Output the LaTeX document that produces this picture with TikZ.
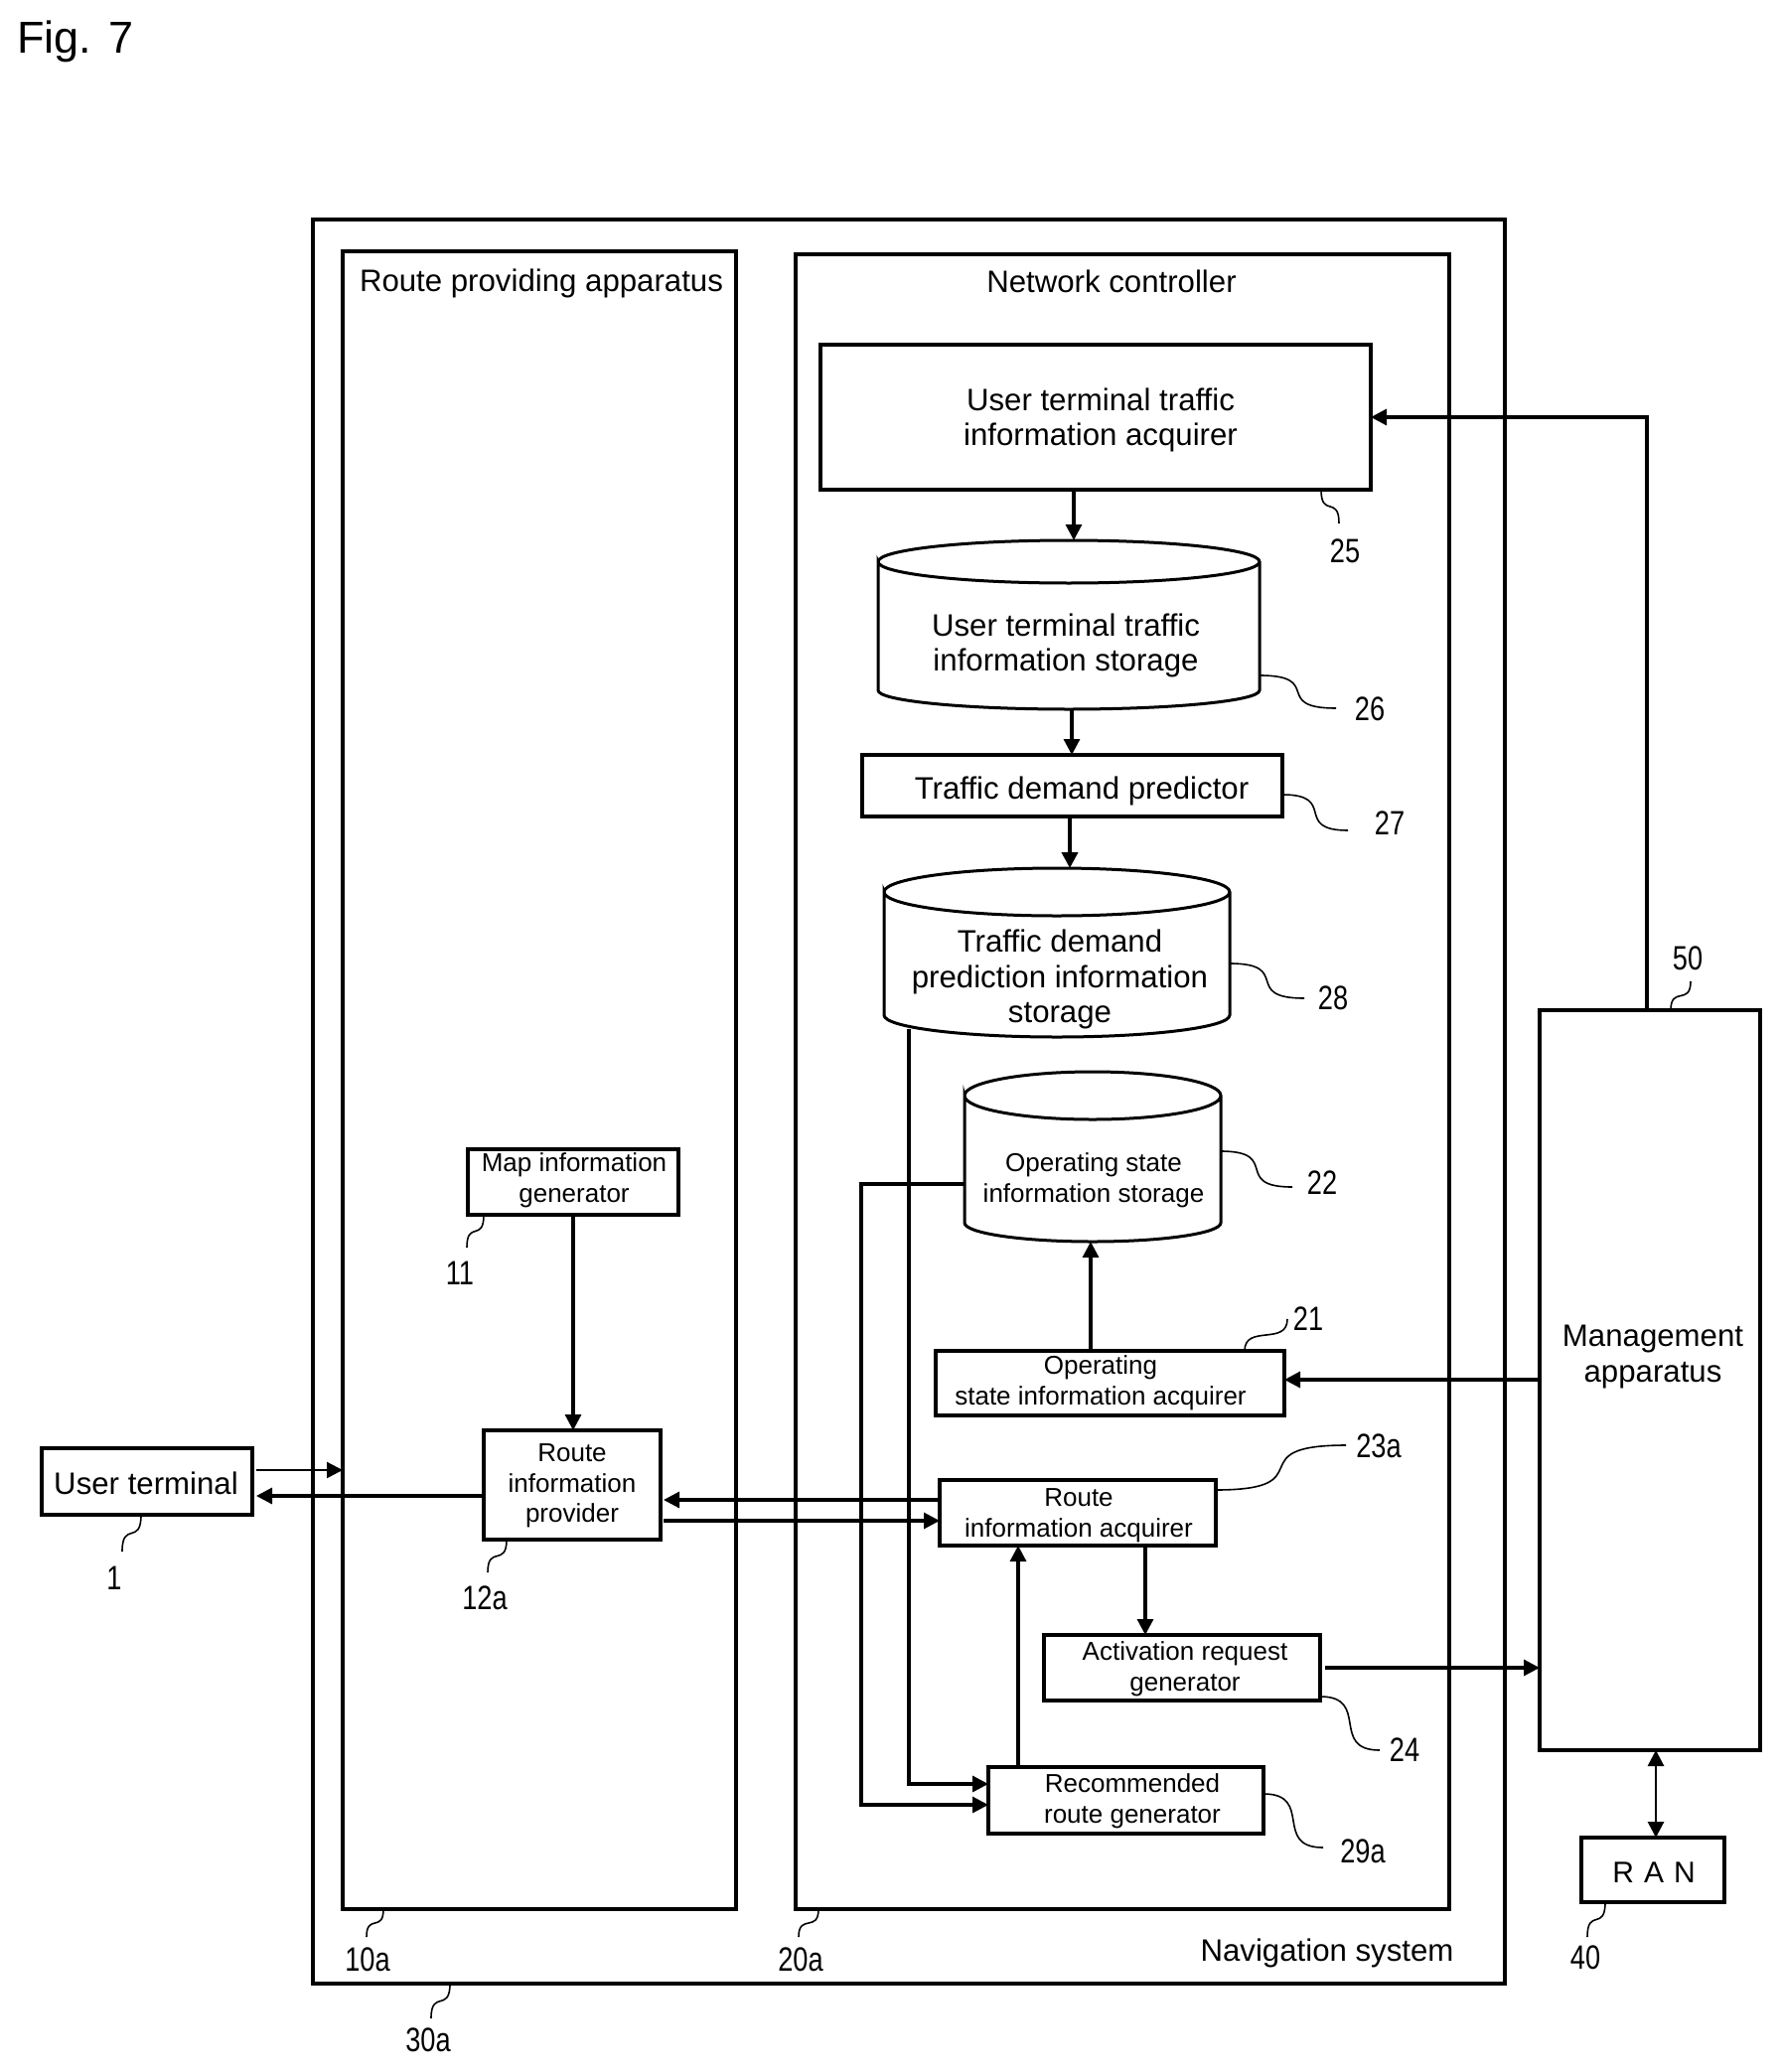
\documentclass[tikz,border=0pt]{standalone}
\usepackage{fontspec}
\setmainfont{Liberation Sans}
\newfontfamily\numfont[FakeStretch=0.8]{Liberation Sans}
\usetikzlibrary{arrows.meta,calc}
\tikzset{
  frame/.style={draw=black,line width=1.7pt,inner sep=0pt,outer sep=0pt,fill=none},
  panel/.style={draw=black,line width=1.7pt,inner sep=0pt,outer sep=0pt},
  heavy/.style={draw=black,line width=2.1pt,inner sep=0pt,outer sep=0pt},
  hollow/.style={draw=none,inner sep=0pt,outer sep=0pt},
  big/.style={inner sep=0pt,align=center,font=\fontsize{15.6}{17.6}\selectfont},
  small/.style={inner sep=0pt,align=center,font=\fontsize{13}{15.3}\selectfont},
  num/.style={inner sep=0pt,font=\numfont\fontsize{17}{20}\selectfont},
  arr/.style={line width=1.6pt,-{Triangle[length=8pt,width=8pt]}},
  thinarr/.style={line width=1.2pt,-{Triangle[length=8pt,width=8pt]}},
  dblarr/.style={line width=1.4pt,{Triangle[length=8pt,width=8pt]}-{Triangle[length=8pt,width=8pt]}},
  leader/.style={line width=0.8pt},
  cylline/.style={draw=black,line width=1.5pt},
}
% name, style, left, top, right, bottom
\newcommand{\boxn}[6]{%
  \node[#2,minimum width={(#5-(#3))*0.5pt},minimum height={(#6-(#4))*0.5pt}]
    (#1) at ({(#3+#5)/2},{(#4+#6)/2}) {};}
% name, left, top, right, ellipse bottom, side bottom, bottom
\newcommand{\cyln}[7]{%
  \boxn{#1}{hollow}{#2}{#3}{#4}{#7}
  \pgfmathsetmacro{\cx}{(#4-#2)/4}
  \pgfmathsetmacro{\cy}{(#5-#3)/4}
  \pgfmathsetmacro{\cyb}{(#7-#6)/2}
  \pgfmathsetmacro{\cm}{(#3+#5)/2}
  \draw[cylline] (#2,\cm) arc[start angle=180,end angle=0,x radius=\cx pt,y radius=\cy pt]
     arc[start angle=0,end angle=-180,x radius=\cx pt,y radius=\cy pt]
     -- (#2,#6) arc[start angle=180,end angle=360,x radius=\cx pt,y radius=\cyb pt]
     -- (#4,\cm);}
% S-shaped leaders: vertical ends / horizontal ends
\newcommand{\leadv}[2]{\draw[leader] let \p1=(#1),\p2=(#2) in
  (\p1) .. controls (\x1,{\y1+0.85*(\y2-\y1)}) and (\x2,{\y2-0.85*(\y2-\y1)}) .. (\p2);}
\newcommand{\leadh}[2]{\draw[leader] let \p1=(#1),\p2=(#2) in
  (\p1) .. controls ({\x1+0.85*(\x2-\x1)},\y1) and ({\x2-0.85*(\x2-\x1)},\y2) .. (\p2);}
\begin{document}
\begin{tikzpicture}[x=0.5pt,y=-0.5pt]
\useasboundingbox (0,0) rectangle (1793,2086);
\node[anchor=west,inner sep=0pt,font=\fontsize{22.5}{26}\selectfont] (fig) at (17,42) {Fig. 7};

% containers
\boxn{sys}{frame}{315}{221}{1515}{1997}
\boxn{rpa}{frame}{345}{253}{741}{1922}
\boxn{nc}{frame}{801}{256}{1459}{1922}
\node[big] (tsys) at (1336,1966) {Navigation system};
\node[big] (trpa) at (545,285) {Route providing apparatus};
\node[big] (tnc) at (1119,283) {Network controller};

% boxes
\boxn{ut}{panel}{42}{1458}{254}{1525}
\node[big] (tut) at (147,1493) {User terminal};
\boxn{b11}{panel}{471}{1157}{683}{1223}
\node[small] (t11) at (578,1188) {Map information\\generator};
\boxn{b12}{panel}{487}{1440}{665}{1550}
\node[small] (t12) at (576,1496) {Route\\information\\provider};
\boxn{b25}{heavy}{826}{347}{1380}{493}
\node[big] (t25) at (1108,423) {User terminal traffic\\information acquirer};
\boxn{b27}{heavy}{868}{760}{1291}{822}
\node[big] (t27) at (1089,796) {Traffic demand predictor};
\boxn{b21}{panel}{942}{1360}{1293}{1425}
\node[small] (t21) at (1108,1392) {Operating\\state information acquirer};
\boxn{b23}{panel}{946}{1490}{1224}{1556}
\node[small] (t23) at (1086,1526) {Route\\information acquirer};
\boxn{b24}{panel}{1051}{1646}{1329}{1712}
\node[small] (t24) at (1193,1680) {Activation request\\generator};
\boxn{b29}{panel}{995}{1779}{1272}{1846}
\node[small] (t29) at (1140,1813) {Recommended\\route generator};
\boxn{mg}{panel}{1550}{1017}{1772}{1762}
\node[big] (tmg) at (1664,1366) {Management\\apparatus};
\boxn{ran}{panel}{1592}{1850}{1736}{1915}
\node[inner sep=0pt,font=\fontsize{15}{18}\selectfont] (tran) at (1665,1885) {R\,\,A\,\,N};

% cylinders
\cyln{c26}{884}{544}{1268}{587}{695}{714}
\node[big] (t26) at (1073,650) {User terminal traffic\\information storage};
\cyln{c28}{890}{874}{1238}{922}{1022}{1044}
\node[big] (t28) at (1067,986) {Traffic demand\\prediction information\\storage};
\cyln{c22}{971}{1079}{1229}{1127}{1231}{1250}
\node[small] (t22) at (1101,1188) {Operating state\\information storage};

% connectors
\draw[arr] (mg.north -| 1658,0) |- (b25.east |- 0,420);
\draw[arr] (b25.south -| 1081,0) -- (c26.north -| 1081,0);
\draw[arr] (c26.south -| 1079,0) -- (b27.north -| 1079,0);
\draw[arr,line width=1.9pt] (b27.south -| 1077,0) -- (c28.north -| 1077,0);
\draw[arr] (b21.north -| 1098,0) -- (c22.south -| 1098,0);
\draw[arr] (mg.west |- 0,1389) -- (b21.east |- 0,1389);
\draw[arr] (b11.south -| 577,0) -- (b12.north -| 577,0);
\draw[thinarr] (ut.east |- 0,1480) ++(4,0) -- (rpa.west |- 0,1480);
\draw[arr] (b12.west |- 0,1506) -- ($(ut.east |- 0,1506)+(4,0)$);
\draw[arr] (b23.west |- 0,1510) -- ($(b12.east |- 0,1510)+(3,0)$);
\draw[arr] ($(b12.east |- 0,1531)+(3,0)$) -- (b23.west |- 0,1531);
\draw[arr] (b23.south -| 1153,0) -- (b24.north -| 1153,0);
\draw[arr] (b29.north -| 1025,0) -- (b23.south -| 1025,0);
\draw[arr] ($(b24.east |- 0,1679)+(5,0)$) -- (mg.west |- 0,1679);
\draw[arr] ($(c28.south -| 915,0)+(0,-8)$) -- (915,1796) -- (b29.west |- 0,1796);
\draw[arr] (c22.west |- 0,1192) -- (867,1192) -- (867,1817) -- (b29.west |- 0,1817);
\draw[dblarr] (mg.south -| 1667,0) -- (ran.north -| 1667,0);

% reference numerals
\node[num] (n1) at (115,1589) {1};
\node[num] (n12) at (488,1609) {12a};
\node[num] (n10) at (370,1973) {10a};
\node[num] (n30) at (431,2054) {30a};
\node[num] (n20) at (806,1973) {20a};
\node[num] (n40) at (1596,1971) {40};
\node[num] (n11) at (463,1282) {11};
\node[num] (n25) at (1354,555) {25};
\node[num] (n26) at (1379,714) {26};
\node[num] (n27) at (1399,829) {27};
\node[num] (n28) at (1342,1005) {28};
\node[num] (n22) at (1331,1191) {22};
\node[num] (n21) at (1317,1328) {21};
\node[num] (n50) at (1699,965) {50};
\node[num] (n23) at (1388,1456) {23a};
\node[num] (n24) at (1414,1762) {24};
\node[num] (n29) at (1372,1864) {29a};

\coordinate (e1) at (123,1562);
\coordinate (e12) at (491,1583);
\coordinate (e10) at (369,1950);
\coordinate (e30) at (434,2032);
\coordinate (e20) at (804,1950);
\coordinate (e40) at (1598,1950);
\coordinate (e11) at (470,1256);
\coordinate (e25) at (1348,527);
\coordinate (e26) at (1345,713);
\coordinate (e27) at (1357,836);
\coordinate (e28) at (1313,1005);
\coordinate (e22) at (1301,1195);
\coordinate (e21) at (1296,1328);
\coordinate (e50) at (1702,988);
\coordinate (e23) at (1355,1455);
\coordinate (e24) at (1389,1762);
\coordinate (e29) at (1332,1860);

\leadv{ut.south -| 142,0}{e1}
\leadv{b12.south -| 510,0}{e12}
\leadv{rpa.south -| 386,0}{e10}
\leadv{sys.south -| 453,0}{e30}
\leadv{nc.south -| 824,0}{e20}
\leadv{ran.south -| 1616,0}{e40}
\leadv{b11.south -| 487,0}{e11}
\leadv{b25.south -| 1330,0}{e25}
\leadh{c26.east |- 0,680}{e26}
\leadh{b27.east |- 0,800}{e27}
\leadh{c28.east |- 0,970}{e28}
\leadh{c22.east |- 0,1159}{e22}
\leadv{b21.north -| 1253,0}{e21}
\leadv{mg.north -| 1682,0}{e50}
\leadh{b23.east |- 0,1500}{e23}
\leadh{b24.east |- 0,1708}{e24}
\leadh{b29.east |- 0,1806}{e29}
\end{tikzpicture}
\end{document}
